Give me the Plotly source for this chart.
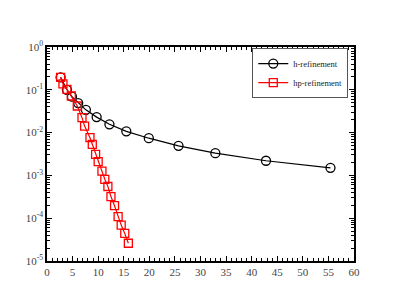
import plotly.graph_objects as go

h_x = [2.66, 3.9, 4.88, 6.1, 7.6, 9.7, 12.2, 15.5, 19.9, 25.7, 32.9, 42.8, 55.4]
h_y = [0.196, 0.10, 0.069, 0.049, 0.034, 0.023, 0.0156, 0.0107, 0.0074, 0.0049, 0.0033, 0.0022, 0.0015]

hp_x = [2.66, 3.12, 3.9, 4.75, 5.92, 6.84, 7.35, 8.4, 8.85, 9.5, 10.0, 10.74, 11.3, 11.9,
        12.5, 13.2, 13.9, 14.5, 15.2, 15.9]
hp_y = [0.196, 0.137, 0.102, 0.0716, 0.0418, 0.0223, 0.0142, 0.0076, 0.0053, 0.0031, 0.0021,
        0.00126, 0.00081, 0.00055, 0.00032, 0.000196, 0.000109, 0.000069, 0.000044, 0.000026]

y_tickvals = [1e-5, 1e-4, 1e-3, 1e-2, 1e-1, 1e0]
y_ticktext = ["10<sup>-5</sup>", "10<sup>-4</sup>", "10<sup>-3</sup>", "10<sup>-2</sup>",
              "10<sup>-1</sup>", "10<sup>0</sup>"]
x_tickvals = [0, 5, 10, 15, 20, 25, 30, 35, 40, 45, 50, 55, 60]

font = "Liberation Serif"

fig = go.Figure()
fig.add_trace(go.Scatter(
    x=h_x, y=h_y, name="h-refinement", mode="lines+markers",
    line=dict(color="black", width=1.2),
    marker=dict(symbol="circle-open", size=9, color="black", line=dict(width=1.3)),
))
fig.add_trace(go.Scatter(
    x=hp_x, y=hp_y, name="hp-refinement", mode="lines+markers",
    line=dict(color="red", width=1.2),
    marker=dict(symbol="square-open", size=8, color="red", line=dict(width=1.3)),
))

fig.update_layout(
    width=391, height=300,
    margin=dict(l=39, r=45, t=39, b=47),
    paper_bgcolor="white", plot_bgcolor="white",
    font=dict(family=font, size=11, color="#444"),
    showlegend=True,
    legend=dict(
        x=0.825, y=0.878, xanchor="center", yanchor="middle",
        bgcolor="white", bordercolor="#555", borderwidth=1,
        font=dict(family=font, size=8.5, color="#222"),
        tracegroupgap=0, itemwidth=30,
    ),
)
fig.update_xaxes(
    range=[0, 60], tickvals=x_tickvals, ticks="inside", ticklen=5, tickwidth=1,
    showline=True, linecolor="black", linewidth=1.5, mirror="allticks",
    showgrid=False, zeroline=False,
    minor=dict(ticks="inside", dtick=1, ticklen=3, tickcolor="black", showgrid=False),
    tickcolor="black",
)
fig.update_yaxes(
    type="log", range=[-5, 0], tickvals=y_tickvals, ticktext=y_ticktext,
    ticks="inside", ticklen=5, tickwidth=1, tickcolor="black",
    showline=True, linecolor="black", linewidth=1.5, mirror="allticks",
    showgrid=False, zeroline=False,
    minor=dict(ticks="inside", dtick="D1", ticklen=3, tickcolor="black", showgrid=False),
)

fig.write_html("out.html")
